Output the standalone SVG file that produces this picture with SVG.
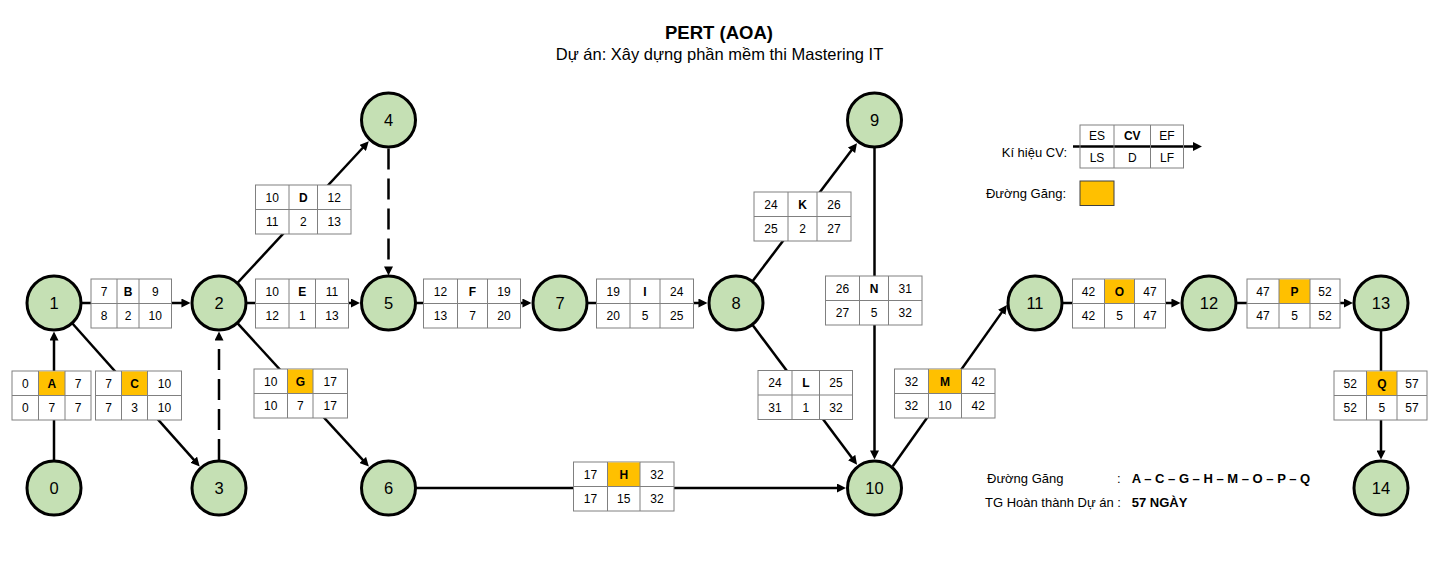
<svg xmlns="http://www.w3.org/2000/svg" width="1438" height="564" viewBox="0 0 1438 564">
<style>
text{font-family:"Liberation Sans",Arial,sans-serif;fill:#000}
.title{font-size:18.5px;font-weight:bold;text-anchor:middle}
.sub{font-size:16.5px;text-anchor:middle}
.node circle{fill:#C5E0B4;stroke:#000;stroke-width:3}
.node text{font-size:16.5px;text-anchor:middle}
.box rect{fill:#fff;stroke:#808080;stroke-width:1}
.box rect.crit{fill:#FFC000;stroke:none}
.box line{stroke:#808080;stroke-width:1}
.box text{font-size:12px;text-anchor:middle}
.box text.cv{font-weight:bold}
.conn line{stroke:#000;stroke-width:2.5;fill:none;marker-end:url(#arr)}
.conn line.dash{stroke-dasharray:21 9}
.lg{font-size:13px}
.bold{font-weight:bold}
</style>
<defs>
<marker id="arr" markerUnits="userSpaceOnUse" viewBox="0 0 10 10" markerWidth="9" markerHeight="9" refX="4.5" refY="5" orient="auto">
<path d="M0,0 L10,5 L0,10 z" fill="#000"/>
</marker>
</defs>
<rect width="1438" height="564" fill="#fff"/>
<text class="title" x="719" y="39">PERT (AOA)</text>
<text class="sub" x="719.5" y="60">Dự án: Xây dựng phần mềm thi Mastering IT</text>

<g id="connectors" class="conn">
<line x1="54" y1="461" x2="54" y2="336.5"/>
<line x1="81" y1="303" x2="185.5" y2="303"/>
<line x1="72" y1="323" x2="196.4" y2="462.7"/>
<line class="dash" x1="219" y1="460" x2="219" y2="336.5"/>
<line x1="237.3" y1="283.2" x2="365.4" y2="145"/>
<line x1="246" y1="303" x2="355" y2="303"/>
<line x1="237.2" y1="322.9" x2="365.5" y2="462.9"/>
<line class="dash" x1="388.5" y1="148.5" x2="388.5" y2="270.5"/>
<line x1="415.5" y1="303" x2="526.5" y2="303"/>
<line x1="415.5" y1="488" x2="841" y2="488"/>
<line x1="587" y1="303" x2="702.5" y2="303"/>
<line x1="752.3" y1="281.5" x2="854" y2="147.1"/>
<line x1="752.2" y1="324.6" x2="854.1" y2="460.8"/>
<line x1="874.5" y1="147" x2="874.5" y2="454.5"/>
<line x1="892.7" y1="466.3" x2="1004.1" y2="309.1"/>
<line x1="1062" y1="303" x2="1175.5" y2="303"/>
<line x1="1236" y1="303" x2="1348" y2="303"/>
<line x1="1381" y1="330" x2="1381" y2="454.5"/>
<line x1="1073" y1="146.5" x2="1197" y2="146.5"/>
</g>

<g id="act-A" class="box">
<rect x="12" y="371" width="79" height="49"/>
<rect class="crit" x="38.5" y="371.5" width="26.5" height="24"/>
<line x1="38.5" y1="371" x2="38.5" y2="420"/><line x1="65" y1="371" x2="65" y2="420"/><line x1="12" y1="395.5" x2="91" y2="395.5"/>
<text x="25.3" y="387.5">0</text><text class="cv" x="51.8" y="387.5">A</text><text x="78" y="387.5">7</text>
<text x="25.3" y="412">0</text><text x="51.8" y="412">7</text><text x="78" y="412">7</text>
</g>
<g id="act-C" class="box">
<rect x="95.5" y="371" width="86" height="49"/>
<rect class="crit" x="121.5" y="371.5" width="26" height="24"/>
<line x1="121.5" y1="371" x2="121.5" y2="420"/><line x1="147.5" y1="371" x2="147.5" y2="420"/><line x1="95.5" y1="395.5" x2="181.5" y2="395.5"/>
<text x="108.5" y="387.5">7</text><text class="cv" x="134.5" y="387.5">C</text><text x="164.5" y="387.5">10</text>
<text x="108.5" y="412">7</text><text x="134.5" y="412">3</text><text x="164.5" y="412">10</text>
</g>
<g id="act-B" class="box">
<rect x="91" y="279" width="80.5" height="49"/>
<line x1="117" y1="279" x2="117" y2="328"/><line x1="139" y1="279" x2="139" y2="328"/><line x1="91" y1="303.5" x2="171.5" y2="303.5"/>
<text x="104" y="295.5">7</text><text class="cv" x="128" y="295.5">B</text><text x="155.3" y="295.5">9</text>
<text x="104" y="320">8</text><text x="128" y="320">2</text><text x="155.3" y="320">10</text>
</g>
<g id="act-D" class="box">
<rect x="255.5" y="185" width="95.5" height="49"/>
<line x1="289" y1="185" x2="289" y2="234"/><line x1="317.5" y1="185" x2="317.5" y2="234"/><line x1="255.5" y1="209.5" x2="351" y2="209.5"/>
<text x="272.3" y="201.5">10</text><text class="cv" x="303.3" y="201.5">D</text><text x="334.3" y="201.5">12</text>
<text x="272.3" y="226">11</text><text x="303.3" y="226">2</text><text x="334.3" y="226">13</text>
</g>
<g id="act-E" class="box">
<rect x="255.5" y="279" width="93" height="49"/>
<line x1="289" y1="279" x2="289" y2="328"/><line x1="315.5" y1="279" x2="315.5" y2="328"/><line x1="255.5" y1="303.5" x2="348.5" y2="303.5"/>
<text x="272.3" y="295.5">10</text><text class="cv" x="302.3" y="295.5">E</text><text x="332" y="295.5">11</text>
<text x="272.3" y="320">12</text><text x="302.3" y="320">1</text><text x="332" y="320">13</text>
</g>
<g id="act-G" class="box">
<rect x="254" y="369" width="93.5" height="49"/>
<rect class="crit" x="287.5" y="369.5" width="25.5" height="24"/>
<line x1="287.5" y1="369" x2="287.5" y2="418"/><line x1="313" y1="369" x2="313" y2="418"/><line x1="254" y1="393.5" x2="347.5" y2="393.5"/>
<text x="270.8" y="385.5">10</text><text class="cv" x="300.3" y="385.5">G</text><text x="330.3" y="385.5">17</text>
<text x="270.8" y="410">10</text><text x="300.3" y="410">7</text><text x="330.3" y="410">17</text>
</g>
<g id="act-F" class="box">
<rect x="423.5" y="279" width="97" height="49"/>
<line x1="457.5" y1="279" x2="457.5" y2="328"/><line x1="487.5" y1="279" x2="487.5" y2="328"/><line x1="423.5" y1="303.5" x2="520.5" y2="303.5"/>
<text x="440.5" y="295.5">12</text><text class="cv" x="472.5" y="295.5">F</text><text x="504" y="295.5">19</text>
<text x="440.5" y="320">13</text><text x="472.5" y="320">7</text><text x="504" y="320">20</text>
</g>
<g id="act-I" class="box">
<rect x="596.5" y="279" width="97" height="49"/>
<line x1="630" y1="279" x2="630" y2="328"/><line x1="660" y1="279" x2="660" y2="328"/><line x1="596.5" y1="303.5" x2="693.5" y2="303.5"/>
<text x="613.3" y="295.5">19</text><text class="cv" x="645" y="295.5">I</text><text x="676.8" y="295.5">24</text>
<text x="613.3" y="320">20</text><text x="645" y="320">5</text><text x="676.8" y="320">25</text>
</g>
<g id="act-H" class="box">
<rect x="573.5" y="462" width="100.5" height="49"/>
<rect class="crit" x="607.5" y="462.5" width="32.5" height="24"/>
<line x1="607.5" y1="462" x2="607.5" y2="511"/><line x1="640" y1="462" x2="640" y2="511"/><line x1="573.5" y1="486.5" x2="674" y2="486.5"/>
<text x="590.5" y="478.5">17</text><text class="cv" x="623.8" y="478.5">H</text><text x="657" y="478.5">32</text>
<text x="590.5" y="503">17</text><text x="623.8" y="503">15</text><text x="657" y="503">32</text>
</g>
<g id="act-K" class="box">
<rect x="754" y="192" width="97" height="49"/>
<line x1="788" y1="192" x2="788" y2="241"/><line x1="817" y1="192" x2="817" y2="241"/><line x1="754" y1="216.5" x2="851" y2="216.5"/>
<text x="771" y="208.5">24</text><text class="cv" x="802.5" y="208.5">K</text><text x="834" y="208.5">26</text>
<text x="771" y="233">25</text><text x="802.5" y="233">2</text><text x="834" y="233">27</text>
</g>
<g id="act-N" class="box">
<rect x="825.5" y="276" width="96.5" height="49"/>
<line x1="859.5" y1="276" x2="859.5" y2="325"/><line x1="888.5" y1="276" x2="888.5" y2="325"/><line x1="825.5" y1="300.5" x2="922" y2="300.5"/>
<text x="842.5" y="292.5">26</text><text class="cv" x="874" y="292.5">N</text><text x="905.3" y="292.5">31</text>
<text x="842.5" y="317">27</text><text x="874" y="317">5</text><text x="905.3" y="317">32</text>
</g>
<g id="act-L" class="box">
<rect x="758" y="370.5" width="94.5" height="49"/>
<line x1="792" y1="370.5" x2="792" y2="419.5"/><line x1="819.5" y1="370.5" x2="819.5" y2="419.5"/><line x1="758" y1="395" x2="852.5" y2="395"/>
<text x="775" y="387">24</text><text class="cv" x="805.8" y="387">L</text><text x="836" y="387">25</text>
<text x="775" y="411.5">31</text><text x="805.8" y="411.5">1</text><text x="836" y="411.5">32</text>
</g>
<g id="act-M" class="box">
<rect x="894.5" y="369" width="100.5" height="49"/>
<rect class="crit" x="928.5" y="369.5" width="33" height="24"/>
<line x1="928.5" y1="369" x2="928.5" y2="418"/><line x1="961.5" y1="369" x2="961.5" y2="418"/><line x1="894.5" y1="393.5" x2="995" y2="393.5"/>
<text x="911.5" y="385.5">32</text><text class="cv" x="945" y="385.5">M</text><text x="978.3" y="385.5">42</text>
<text x="911.5" y="410">32</text><text x="945" y="410">10</text><text x="978.3" y="410">42</text>
</g>
<g id="act-O" class="box">
<rect x="1072.5" y="279" width="93" height="49"/>
<rect class="crit" x="1104.5" y="279.5" width="30" height="24"/>
<line x1="1104.5" y1="279" x2="1104.5" y2="328"/><line x1="1134.5" y1="279" x2="1134.5" y2="328"/><line x1="1072.5" y1="303.5" x2="1165.5" y2="303.5"/>
<text x="1088.5" y="295.5">42</text><text class="cv" x="1119.5" y="295.5">O</text><text x="1150" y="295.5">47</text>
<text x="1088.5" y="320">42</text><text x="1119.5" y="320">5</text><text x="1150" y="320">47</text>
</g>
<g id="act-P" class="box">
<rect x="1247" y="279" width="93" height="49"/>
<rect class="crit" x="1279" y="279.5" width="31" height="24"/>
<line x1="1279" y1="279" x2="1279" y2="328"/><line x1="1310" y1="279" x2="1310" y2="328"/><line x1="1247" y1="303.5" x2="1340" y2="303.5"/>
<text x="1263" y="295.5">47</text><text class="cv" x="1294.5" y="295.5">P</text><text x="1325" y="295.5">52</text>
<text x="1263" y="320">47</text><text x="1294.5" y="320">5</text><text x="1325" y="320">52</text>
</g>
<g id="act-Q" class="box">
<rect x="1334" y="371" width="93" height="49"/>
<rect class="crit" x="1366.5" y="371.5" width="30.5" height="24"/>
<line x1="1366.5" y1="371" x2="1366.5" y2="420"/><line x1="1397" y1="371" x2="1397" y2="420"/><line x1="1334" y1="395.5" x2="1427" y2="395.5"/>
<text x="1350.3" y="387.5">52</text><text class="cv" x="1381.8" y="387.5">Q</text><text x="1412" y="387.5">57</text>
<text x="1350.3" y="412">52</text><text x="1381.8" y="412">5</text><text x="1412" y="412">57</text>
</g>

<g id="node-0" class="node"><circle cx="54" cy="488" r="27"/><text x="54" y="494">0</text></g>
<g id="node-1" class="node"><circle cx="54" cy="303" r="27"/><text x="54" y="309">1</text></g>
<g id="node-2" class="node"><circle cx="219" cy="303" r="27"/><text x="219" y="309">2</text></g>
<g id="node-3" class="node"><circle cx="219" cy="488" r="27"/><text x="219" y="494">3</text></g>
<g id="node-4" class="node"><circle cx="388.5" cy="120" r="27"/><text x="388.5" y="126">4</text></g>
<g id="node-5" class="node"><circle cx="388.5" cy="303" r="27"/><text x="388.5" y="309">5</text></g>
<g id="node-6" class="node"><circle cx="388.5" cy="488" r="27"/><text x="388.5" y="494">6</text></g>
<g id="node-7" class="node"><circle cx="560" cy="303" r="27"/><text x="560" y="309">7</text></g>
<g id="node-8" class="node"><circle cx="736" cy="303" r="27"/><text x="736" y="309">8</text></g>
<g id="node-9" class="node"><circle cx="874.5" cy="120" r="27"/><text x="874.5" y="126">9</text></g>
<g id="node-10" class="node"><circle cx="874.5" cy="488" r="27"/><text x="874.5" y="494">10</text></g>
<g id="node-11" class="node"><circle cx="1035" cy="303" r="27"/><text x="1035" y="309">11</text></g>
<g id="node-12" class="node"><circle cx="1209" cy="303" r="27"/><text x="1209" y="309">12</text></g>
<g id="node-13" class="node"><circle cx="1381" cy="303" r="27"/><text x="1381" y="309">13</text></g>
<g id="node-14" class="node"><circle cx="1381" cy="488" r="27"/><text x="1381" y="494">14</text></g>

<g id="legend">
<text class="lg" x="1067" y="157" text-anchor="end">Kí hiệu CV:</text>
<g class="box">
<rect x="1080" y="125" width="103.5" height="43" fill="none" style="fill:none"/>
<line x1="1114" y1="125" x2="1114" y2="168"/><line x1="1150.5" y1="125" x2="1150.5" y2="168"/>
<text x="1097" y="140">ES</text><text class="cv" x="1132.3" y="140">CV</text><text x="1167" y="140">EF</text>
<text x="1097" y="161.5">LS</text><text x="1132.3" y="161.5">D</text><text x="1167" y="161.5">LF</text>
</g>
<text class="lg" x="1066" y="198" text-anchor="end">Đường Găng:</text>
<rect x="1080" y="181" width="34" height="24.5" fill="#FFC000" stroke="#404040" stroke-width="1"/>
</g>

<g id="summary">
<text class="lg" x="987" y="483">Đường Găng</text>
<text class="lg" x="1117" y="483">:</text>
<text class="lg bold" x="1131.7" y="483">A – C – G – H – M – O – P – Q</text>
<text class="lg" x="985" y="507">TG Hoàn thành Dự án :</text>
<text class="lg bold" x="1131.7" y="507">57 NGÀY</text>
</g>
</svg>
